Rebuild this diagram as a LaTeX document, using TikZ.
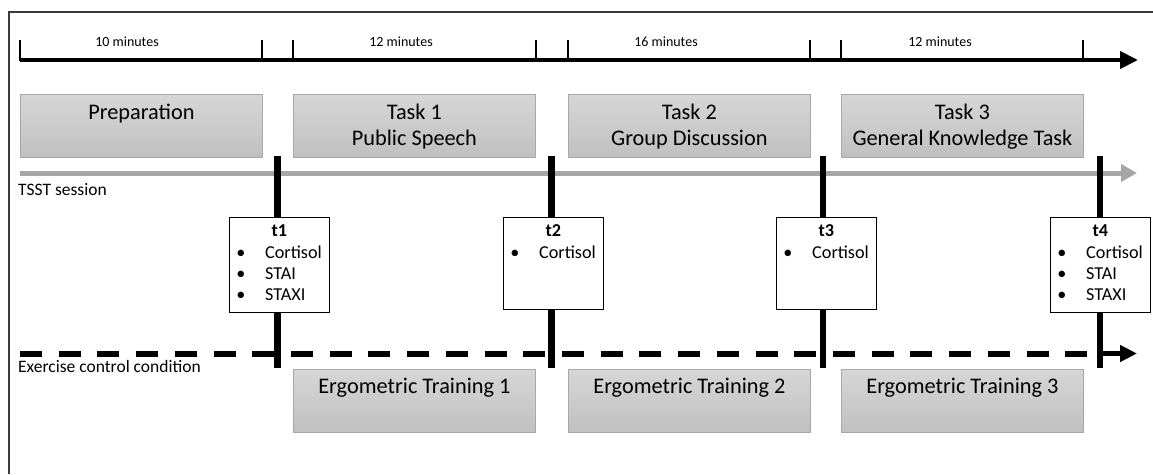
\documentclass[tikz,border=0pt]{standalone}
\usepackage{fontspec}
\setmainfont{Carlito}
\usetikzlibrary{arrows.meta,calc}
\definecolor{tsstgray}{HTML}{A6A6A6}
\definecolor{boxtop}{HTML}{D6D6D6}
\definecolor{boxbot}{HTML}{C0C0C0}
\definecolor{boxline}{HTML}{A8A8A8}
\definecolor{framegray}{HTML}{3A3A3A}
\begin{document}
\begin{tikzpicture}[x=1pt,y=-1pt,
  gbox/.style={draw=boxline, line width=0.8pt, top color=boxtop, bottom color=boxbot,
    minimum width=242pt, minimum height=63pt, anchor=north west, inner sep=0pt},
  big/.style={font=\fontsize{22.3}{26}\selectfont, anchor=base, inner sep=0pt},
  mins/.style={font=\fontsize{14}{16}\selectfont, anchor=base, inner sep=0pt},
  side/.style={font=\fontsize{17.5}{20}\selectfont, anchor=base west, inner sep=0pt},
  small/.style={font=\fontsize{18.2}{20}\selectfont, inner sep=0pt},
  tbox/.style={draw=black, fill=white, line width=0.8pt, anchor=north west,
    minimum width=100pt, inner sep=0pt},
  tickline/.style={line width=2pt},
  timebar/.style={line width=6.5pt},
  dashseg/.style={line width=6pt, dash pattern=on 22pt off 16.7pt},
]
\useasboundingbox (0,0) rectangle (1153,474);
% frame
\draw[framegray, line width=1.2pt] (9,474) -- (9,12) -- (1153,12);

% top timeline
\coordinate (tl0) at (20,60);
\coordinate (tlend) at (1138,60);
\draw[line width=4pt, -{Triangle[length=18pt,width=17pt]}] (tl0) -- (tlend);
\foreach \x in {20,262,293,536,568,810,841,1083}
  \draw[tickline] (\x,40) -- (\x,61);
\node[mins] (m1) at (127,46.7) {10 minutes};
\node[mins] (m2) at (401,46.7) {12 minutes};
\node[mins] (m3) at (666,46.7) {16 minutes};
\node[mins] (m4) at (940,46.7) {12 minutes};

% top gray boxes
\node[gbox] (prep) at (20,94) {};
\node[gbox] (task1) at (293,94) {};
\node[gbox] (task2) at (568,94) {};
\node[gbox] (task3) at (841,94) {};
\node[big] at ($(prep.north)+(0,25)$) {Preparation};
\node[big] at ($(task1.north)+(0,25)$) {Task 1};
\node[big] at ($(task1.north)+(0,51.7)$) {Public Speech};
\node[big] at ($(task2.north)+(0,25)$) {Task 2};
\node[big] at ($(task2.north)+(0,51.7)$) {Group Discussion};
\node[big] at ($(task3.north)+(0,25)$) {Task 3};
\node[big] at ($(task3.north)+(0,51.7)$) {General Knowledge Task};

% TSST session line
\coordinate (ts0) at (20,173);
\coordinate (tsend) at (1137,173);
\draw[tsstgray, line width=5pt, -{Triangle[length=16pt,width=17pt]}] (ts0) -- (tsend);
\node[side] (tsst) at (18,195.7) {TSST session};

% exercise dashed line
\coordinate (d1a) at (20,353.5);   \coordinate (d1b) at (277,353.5);
\coordinate (d2a) at (291,353.5);  \coordinate (d2b) at (551,353.5);
\coordinate (d3a) at (562,353.5);  \coordinate (d3b) at (823,353.5);
\coordinate (d4a) at (833,353.5);  \coordinate (d4b) at (1100,353.5);
\coordinate (dend) at (1137,353.5);
\draw[dashseg] (d1a) -- (d1b);
\draw[dashseg] (d2a) -- (d2b);
\draw[dashseg] (d3a) -- (d3b);
\draw[dashseg] (d4a) -- (d4b);
\draw[line width=5pt, -{Triangle[length=17pt,width=16pt]}] (d4b) -- (dend);
\node[side] (exc) at (18,372.7) {Exercise control condition};

% vertical bars
\foreach \x/\n in {277.5/1,551.5/2,823/3,1100/4}{
  \coordinate (b\n top) at (\x,156);
  \coordinate (b\n bot) at (\x,368);
  \draw[timebar] (b\n top) -- (b\n bot);
}

% measurement boxes
\node[tbox, minimum height=95pt] (t1) at (229,217) {};
\node[tbox, minimum height=92pt] (t2) at (503,217) {};
\node[tbox, minimum height=92pt] (t3) at (776,217) {};
\node[tbox, minimum height=95pt] (t4) at (1050,217) {};
\foreach \b/\lab in {t1/t1,t2/t2,t3/t3,t4/t4}
  \node[small, anchor=base] at ($(\b.north)+(0,19.7)$) {\textbf{\lab}};
\foreach \b in {t1,t2,t3,t4}{
  \node[small, anchor=base] at ($(\b.north west)+(12,41.3)$) {•};
  \node[small, anchor=base west] at ($(\b.north west)+(36,41.3)$) {Cortisol};
}
\foreach \b in {t1,t4}{
  \node[small, anchor=base] at ($(\b.north west)+(12,62.3)$) {•};
  \node[small, anchor=base west] at ($(\b.north west)+(36,62.3)$) {STAI};
  \node[small, anchor=base] at ($(\b.north west)+(12,83)$) {•};
  \node[small, anchor=base west] at ($(\b.north west)+(36,83)$) {STAXI};
}

% bottom gray boxes
\node[gbox] (erg1) at (293,369) {};
\node[gbox] (erg2) at (568,369) {};
\node[gbox] (erg3) at (841,369) {};
\node[big] at ($(erg1.north)+(0,24)$) {Ergometric Training 1};
\node[big] at ($(erg2.north)+(0,24)$) {Ergometric Training 2};
\node[big] at ($(erg3.north)+(0,24)$) {Ergometric Training 3};
\end{tikzpicture}
\end{document}
